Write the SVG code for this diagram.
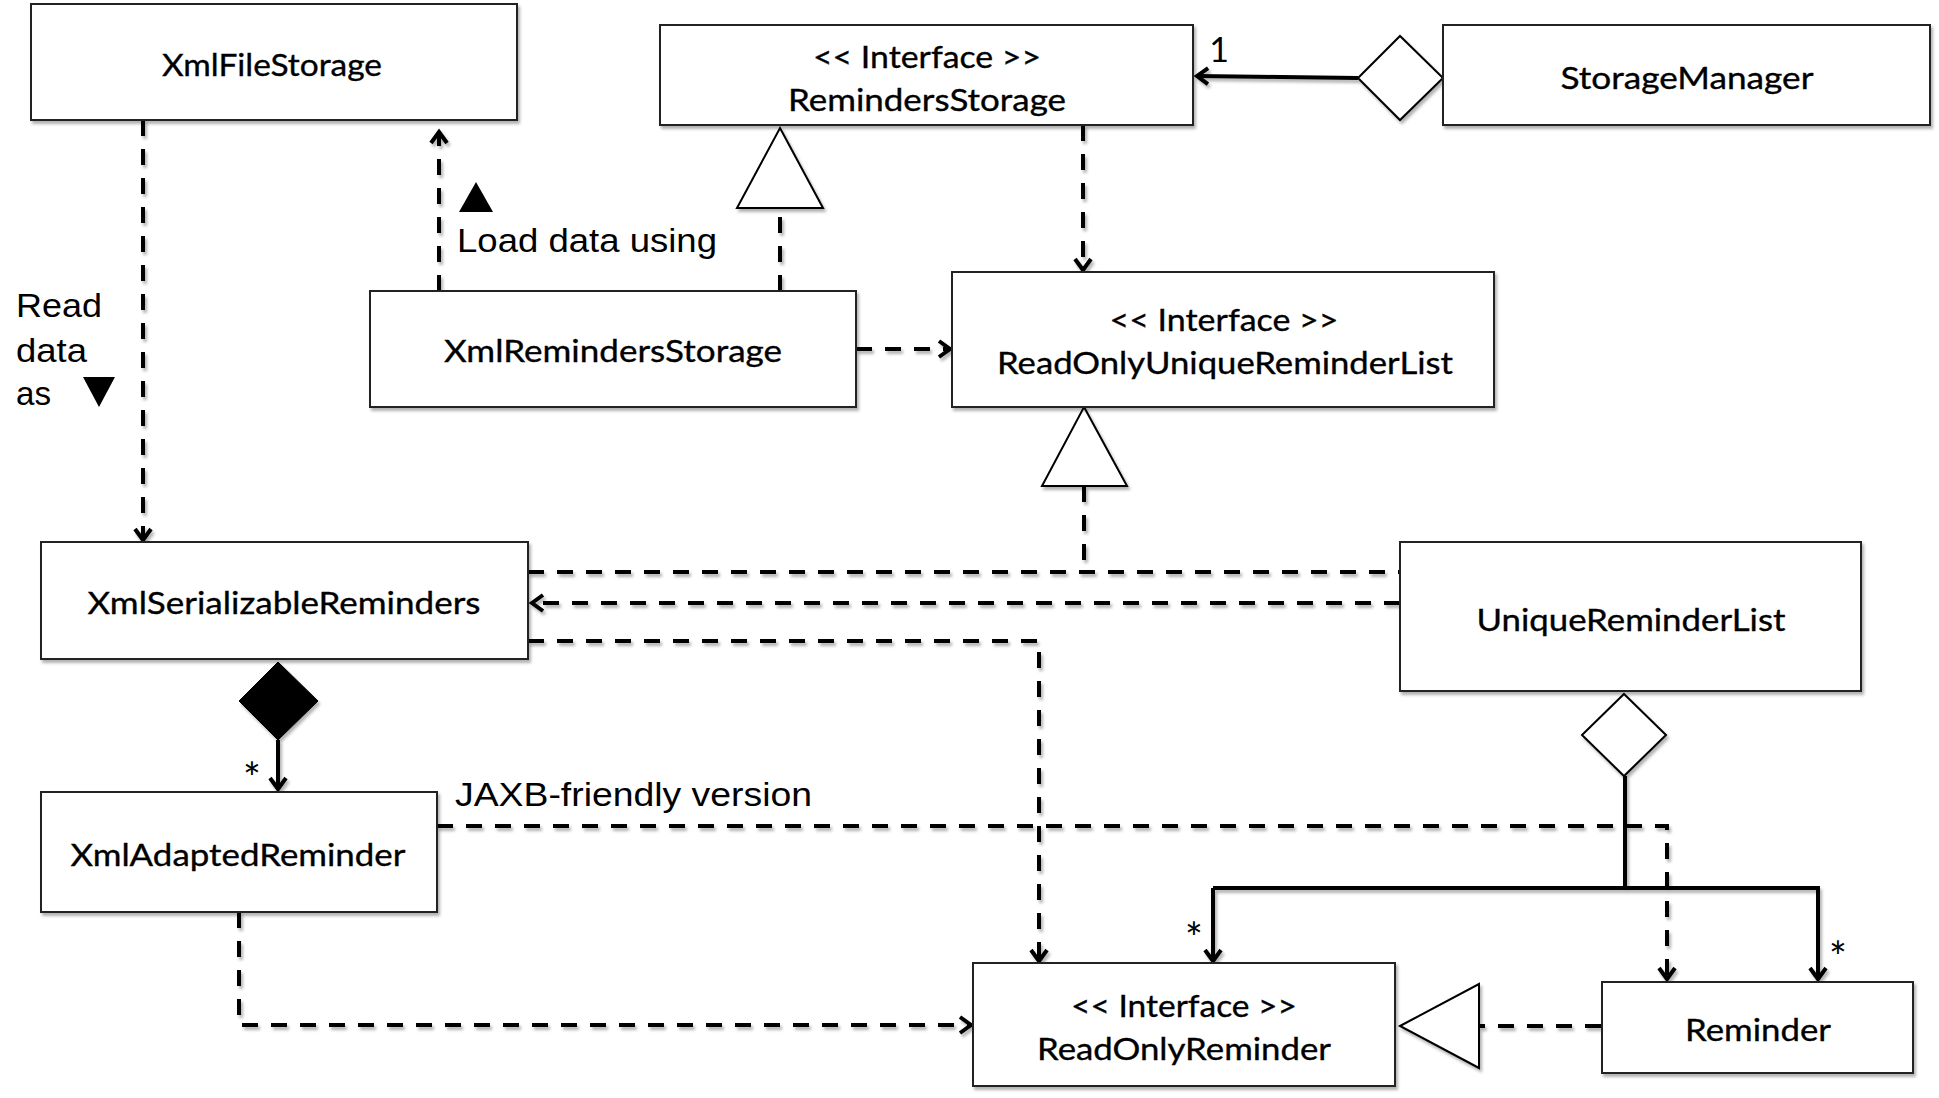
<svg xmlns="http://www.w3.org/2000/svg" width="1939" height="1098" viewBox="0 0 1939 1098">
<style>
.box{fill:#fff;stroke:#222;stroke-width:2}
.lbl{font-family:Lato,"Open Sans",sans-serif;font-size:31px;fill:#000;stroke:#000;stroke-width:0.35;text-anchor:middle}
.star{font-family:Lato,"Open Sans",sans-serif;font-size:42px;fill:#000;text-anchor:middle}
.note{font-family:"Liberation Sans",Arial,sans-serif;font-size:34px;fill:#000}
.dash{fill:none;stroke:#000;stroke-width:4;stroke-dasharray:16 13}
.solid{fill:none;stroke:#000;stroke-width:4}
.hollow{fill:#fff;stroke:#000;stroke-width:2}
.sh{filter:url(#shadow)}
</style>
<defs>
<filter id="shadow" x="-10%" y="-10%" width="130%" height="140%">
<feDropShadow dx="2" dy="3" stdDeviation="1.5" flood-color="#000" flood-opacity="0.3"/>
</filter>
<marker id="open" markerUnits="userSpaceOnUse" markerWidth="24" markerHeight="24" viewBox="-14 -12 18 24" refX="0" refY="0" orient="auto">
<path d="M-11,-8 L0,0 L-11,8" fill="none" stroke="#000" stroke-width="4" stroke-linejoin="miter"/>
</marker>
</defs>
<rect width="1939" height="1098" fill="#fff"/>

<g id="connectors" class="sh">
<path class="dash" d="M143,120 L143,540" marker-end="url(#open)"/>
<path class="dash" d="M439,291 L439,132" marker-end="url(#open)"/>
<path class="dash" d="M780,291 L780,208"/>
<polygon class="hollow" points="780,128 823,208 737,208"/>
<path class="dash" d="M1083,125 L1083,270" marker-end="url(#open)"/>
<path class="dash" d="M856,349 L950,349" marker-end="url(#open)"/>
<path class="solid" d="M1358,78 L1197,76" marker-end="url(#open)"/>
<polygon class="hollow" points="1358,78 1400,36 1443,78 1400,120"/>
<path class="dash" d="M1084,486 L1084,572"/>
<path class="dash" d="M528,572 L1400,572"/>
<polygon class="hollow" points="1084,407 1127,486 1042,486"/>
<path class="dash" d="M1400,603 L532,603" marker-end="url(#open)"/>
<path class="dash" d="M528,641 L1039,641 L1039,961" marker-end="url(#open)"/>
<polygon points="278,662 318,701 278,740 239,701" fill="#000" stroke="#000" stroke-width="1"/>
<path class="solid" d="M278,740 L278,789" marker-end="url(#open)"/>
<path class="dash" d="M437,826 L1667,826 L1667,979" marker-end="url(#open)"/>
<path class="dash" d="M239,912 L239,1025 L971,1025" marker-end="url(#open)"/>
<polygon class="hollow" points="1624,694 1666,735 1624,776 1582,735"/>
<path class="solid" d="M1625,776 L1625,888"/>
<path class="solid" d="M1213,888 L1818,888 L1818,979" marker-end="url(#open)"/>
<path class="solid" d="M1213,888 L1213,961" marker-end="url(#open)"/>
<path class="dash" d="M1601,1026 L1479,1026"/>
<polygon class="hollow" points="1400,1026 1479,984 1479,1068"/>
</g>

<g id="XmlFileStorage"><rect class="box sh" x="31" y="4" width="486" height="116"/><text class="lbl" x="272" y="76" textLength="220" lengthAdjust="spacingAndGlyphs">XmlFileStorage</text></g>
<g id="RemindersStorage"><rect class="box sh" x="660" y="25" width="533" height="100"/><text class="lbl" x="927" y="68" textLength="228" lengthAdjust="spacingAndGlyphs">&lt;&lt; Interface &gt;&gt;</text><text class="lbl" x="927" y="111" textLength="278" lengthAdjust="spacingAndGlyphs">RemindersStorage</text></g>
<g id="StorageManager"><rect class="box sh" x="1443" y="25" width="487" height="100"/><text class="lbl" x="1687" y="89" textLength="253" lengthAdjust="spacingAndGlyphs">StorageManager</text></g>
<g id="XmlRemindersStorage"><rect class="box sh" x="370" y="291" width="486" height="116"/><text class="lbl" x="613" y="362" textLength="338" lengthAdjust="spacingAndGlyphs">XmlRemindersStorage</text></g>
<g id="ReadOnlyUniqueReminderList"><rect class="box sh" x="952" y="272" width="542" height="135"/><text class="lbl" x="1224" y="331" textLength="229" lengthAdjust="spacingAndGlyphs">&lt;&lt; Interface &gt;&gt;</text><text class="lbl" x="1225" y="374" textLength="456" lengthAdjust="spacingAndGlyphs">ReadOnlyUniqueReminderList</text></g>
<g id="XmlSerializableReminders"><rect class="box sh" x="41" y="542" width="487" height="117"/><text class="lbl" x="284" y="614" textLength="393" lengthAdjust="spacingAndGlyphs">XmlSerializableReminders</text></g>
<g id="UniqueReminderList"><rect class="box sh" x="1400" y="542" width="461" height="149"/><text class="lbl" x="1631" y="631" textLength="309" lengthAdjust="spacingAndGlyphs">UniqueReminderList</text></g>
<g id="XmlAdaptedReminder"><rect class="box sh" x="41" y="792" width="396" height="120"/><text class="lbl" x="238" y="866" textLength="335" lengthAdjust="spacingAndGlyphs">XmlAdaptedReminder</text></g>
<g id="ReadOnlyReminder"><rect class="box sh" x="973" y="963" width="422" height="123"/><text class="lbl" x="1184" y="1017" textLength="226" lengthAdjust="spacingAndGlyphs">&lt;&lt; Interface &gt;&gt;</text><text class="lbl" x="1184" y="1060" textLength="294" lengthAdjust="spacingAndGlyphs">ReadOnlyReminder</text></g>
<g id="Reminder"><rect class="box sh" x="1602" y="982" width="311" height="91"/><text class="lbl" x="1758" y="1041" textLength="146" lengthAdjust="spacingAndGlyphs">Reminder</text></g>

<g id="labels">
<text class="note" x="457" y="252" textLength="260" lengthAdjust="spacingAndGlyphs">Load data using</text>
<polygon points="476,182 493,212 459,212" fill="#000"/>
<text class="note" x="16" y="317" textLength="86" lengthAdjust="spacingAndGlyphs">Read</text>
<text class="note" x="16" y="362" textLength="71" lengthAdjust="spacingAndGlyphs">data</text>
<text class="note" x="16" y="405" textLength="35" lengthAdjust="spacingAndGlyphs">as</text>
<polygon points="83,377 115,377 99,407" fill="#000"/>
<text class="note" x="455" y="806" textLength="357" lengthAdjust="spacingAndGlyphs">JAXB-friendly version</text>
<text class="star" x="1219" y="62" style="font-size:34px">1</text>
<text class="star" x="252" y="793">*</text>
<text class="star" x="1194" y="953">*</text>
<text class="star" x="1838" y="972">*</text>
</g>
</svg>
